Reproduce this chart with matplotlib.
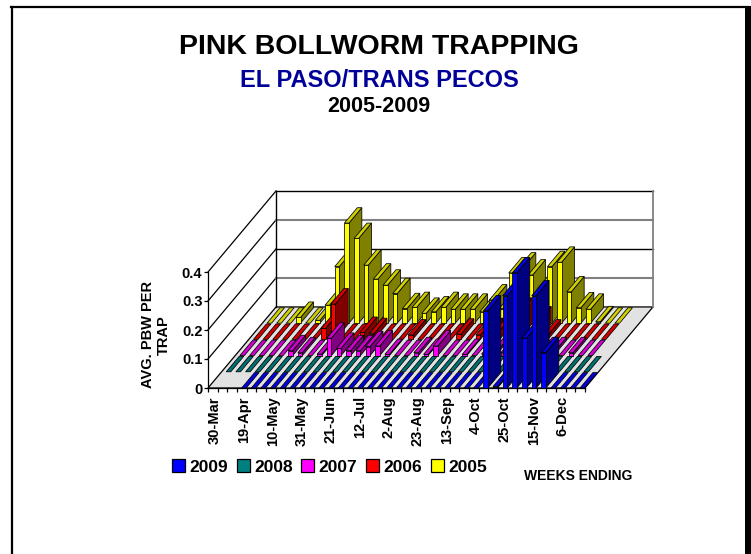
#!/usr/bin/env python3
import matplotlib
matplotlib.use("Agg")
import matplotlib.pyplot as plt
from matplotlib.patches import Patch, Polygon, Rectangle
from matplotlib.lines import Line2D
import numpy as np

plt.rcParams["font.family"] = ["Liberation Sans", "DejaVu Sans"]
plt.rcParams["font.weight"] = "bold"

N = np.nan

# weeks ending, one label every third week
week_labels = ["30-Mar", "19-Apr", "10-May", "31-May", "21-Jun", "12-Jul", "2-Aug",
               "23-Aug", "13-Sep", "4-Oct", "25-Oct", "15-Nov", "6-Dec"]

y2009 = [N, N, N, 0, 0, 0, 0, 0, 0, 0, 0, 0, 0, 0, 0, 0, 0, 0, 0, 0,
         0, 0, 0, 0, 0, 0, 0, 0, .266, .005, .318, .397, .172, .318, .122, 0, 0, 0, 0]
y2008 = [0, 0, 0, 0, 0, 0, 0, 0, 0, 0, 0, 0, 0, 0, 0, 0, 0, 0, 0, 0,
         0, 0, 0, 0, 0, 0, 0, 0, 0, 0, 0, 0, 0, 0, 0, 0, 0, 0, N]
y2007 = [0, 0, 0, 0, 0, .017, .01, 0, .005, .06, .025, .017, .017, .031, .033, .004, 0, 0, .01, .004,
         .033, 0, 0, .004, 0, .005, .01, .01, .01, .01, .01, .01, .01, 0, .01, 0, 0, N, N]
y2006 = [0, 0, 0, 0, 0, 0, 0, .038, .122, 0, 0, .024, .02, 0, 0, 0, .015, 0, 0, 0,
         0, .018, 0, .015, .02, .03, .07, .09, 0, .06, .015, 0, 0, 0, 0, 0, 0, N, N]
y2005 = [0, 0, 0, .02, 0, .01, .062, .195, .345, .292, .2, .152, .131, .102, .05, .054, .034, .039, .054, .048,
         .048, .048, .039, .08, .05, .173, .19, .166, .12, .195, .21, .108, .053, .048, .005, 0, 0, N, N]

series = [y2009, y2008, y2007, y2006, y2005]
series_names = ["2009", "2008", "2007", "2006", "2005"]

# front, top, side colours per series
front_cols = ["#0000ff", "#008080", "#ff00ff", "#ff0000", "#ffff00"]
top_cols = ["#0000e0", "#006f6f", "#d000d0", "#d00000", "#d0d000"]
side_cols = ["#000080", "#004040", "#800080", "#800000", "#808000"]

n_weeks = len(y2009)
ymax = 0.4
# shift of one row going back, in data units of the front plane
dx = 1.407
dy = 0.0559
n_rows = 5

fig = plt.figure(figsize=(7.51, 5.54), dpi=100)
ax = fig.add_axes([208 / 751, (554 - 388) / 554, 377 / 751, 116 / 554])
ax.set_xlim(0, n_weeks)
ax.set_ylim(0, ymax)
ax.patch.set_visible(False)
for s in ["top", "right"]:
    ax.spines[s].set_visible(False)


def proj(w, d, v):
    return (w + d * dx, v + d * dy)


def poly(pts, **kw):
    ax.add_patch(Polygon(pts, closed=True, clip_on=False, **kw))


def line(a, b, col="black", lw=1.0, z=1):
    ax.add_line(Line2D([a[0], b[0]], [a[1], b[1]], color=col, lw=lw, clip_on=False, zorder=z))


# floor
poly([proj(0, 0, 0), proj(n_weeks, 0, 0), proj(n_weeks, n_rows, 0), proj(0, n_rows, 0)],
     facecolor="#e2e2e2", edgecolor="black", lw=0.9, zorder=1)

# walls and grid
for v in [0.1, 0.2, 0.3, 0.4]:
    col = "#808080" if v in (0.1, 0.3) else "black"
    line(proj(0, 0, v), proj(0, n_rows, v), "black", 0.9)
    line(proj(0, n_rows, v), proj(n_weeks, n_rows, v), col, 1.0 if col == "black" else 1.5)
line(proj(0, n_rows, 0), proj(0, n_rows, ymax))
line(proj(n_weeks, n_rows, 0), proj(n_weeks, n_rows, ymax), "#808080", 1.3)

# bars, back row first, left to right inside a row
bw = 0.47
depth = 0.95
z = 2
for d in range(n_rows - 1, -1, -1):
    for w, v in enumerate(series[d]):
        if np.isnan(v):
            continue
        x0 = w + 0.48
        x1 = x0 + bw
        style = dict(edgecolor="black", lw=0.55, zorder=z)
        if v > 0:
            poly([proj(x1, d, 0), proj(x1, d + depth, 0), proj(x1, d + depth, v), proj(x1, d, v)],
                 facecolor=side_cols[d], **style)
        poly([proj(x0, d, v), proj(x1, d, v), proj(x1, d + depth, v), proj(x0, d + depth, v)],
             facecolor=top_cols[d], **style)
        if v > 0:
            poly([proj(x0, d, 0), proj(x1, d, 0), proj(x1, d, v), proj(x0, d, v)],
                 facecolor=front_cols[d], **style)
        z += 1

# axes ticks
ax.set_yticks([0, 0.1, 0.2, 0.3, 0.4])
ax.set_yticklabels(["0", "0.1", "0.2", "0.3", "0.4"], fontsize=10.5, fontweight="bold")
ax.set_xticks(np.arange(0, n_weeks + 1))
ax.set_xticklabels([])
ax.set_xticks(np.arange(0, n_weeks, 3) + 0.7, labels=week_labels, minor=True, rotation=90,
              fontsize=10.5, fontweight="bold")
ax.tick_params(axis="x", which="major", length=3, width=0.9)
ax.tick_params(axis="x", which="minor", length=0, pad=6)
ax.tick_params(axis="y", length=3, width=0.9, pad=1)
ax.spines["left"].set_linewidth(0.9)
ax.spines["bottom"].set_linewidth(0.9)
ax.set_ylabel("AVG. PBW PER\nTRAP", fontsize=10.5, fontweight="bold", linespacing=1.15)
ax.yaxis.set_label_coords(-0.098, 0.46)

# titles
fig.text(379 / 751, 1 - 47 / 554, "PINK BOLLWORM TRAPPING", fontsize=20.5, fontweight="bold",
         ha="center", va="center", color="black")
fig.text(379 / 751, 1 - 80 / 554, "EL PASO/TRANS PECOS", fontsize=17, fontweight="bold",
         ha="center", va="center", color="#000099")
fig.text(379 / 751, 1 - 106 / 554, "2005-2009", fontsize=15.5, fontweight="bold",
         ha="center", va="center", color="black")
fig.text(578 / 751, 1 - 476 / 554, "WEEKS ENDING", fontsize=10, fontweight="bold",
         ha="center", va="center", color="black")

# legend
handles = [Patch(facecolor=c, edgecolor="black", lw=0.9) for c in front_cols]
fig.legend(handles, series_names, ncol=5, frameon=False, fontsize=12.5,
           loc="center left", bbox_to_anchor=(172 / 751, 1 - 467 / 554), borderpad=0, borderaxespad=0,
           handlelength=0.75, handleheight=0.75, handletextpad=0.25, columnspacing=0.5)

# outer frame, open at the bottom
fig.add_artist(Line2D([11.5 / 751, 11.5 / 751], [0, 1 - 7 / 554], color="black", lw=1.6))
fig.add_artist(Line2D([11 / 751, 748 / 751], [1 - 7 / 554, 1 - 7 / 554], color="black", lw=1.6))
fig.add_artist(Rectangle((745 / 751, 0), 6 / 751, 1 - 6 / 554, transform=fig.transFigure,
                         facecolor="black", edgecolor="none"))

fig.savefig("out.png", dpi=100)
